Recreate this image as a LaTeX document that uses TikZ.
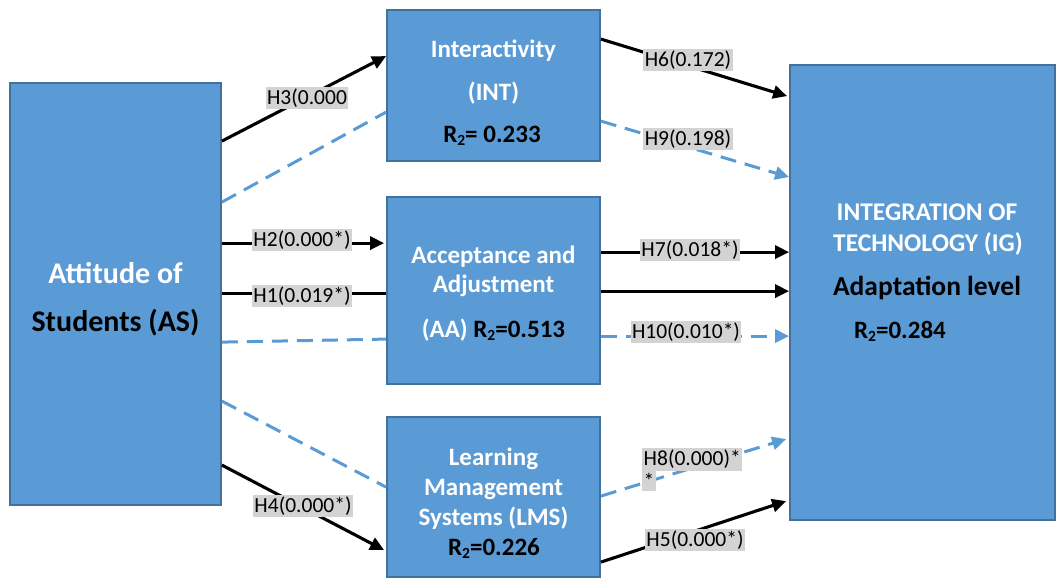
\documentclass[tikz,border=0pt]{standalone}
\usepackage{fontspec}
\setmainfont{Carlito}
\usetikzlibrary{arrows.meta}
\definecolor{boxblue}{HTML}{5B9BD5}
\definecolor{boxedge}{HTML}{41719C}
\definecolor{lblgray}{HTML}{D3D3D3}
\newcommand{\Rtwo}{R\raisebox{-0.15em}{\scalebox{0.62}{2}}}
\begin{document}
\begin{tikzpicture}[x=1pt,y=-1pt,
  box/.style={draw=boxedge,fill=boxblue,line width=1.8pt,inner sep=0pt},
  wt/.style={text=white,font=\fontsize{25}{29}\selectfont\bfseries,anchor=base,inner sep=0pt},
  bt/.style={text=black,font=\fontsize{25}{29}\selectfont\bfseries,anchor=base,inner sep=0pt},
  bigw/.style={text=white,font=\fontsize{30}{34}\selectfont\bfseries,anchor=base,inner sep=0pt},
  bigb/.style={text=black,font=\fontsize{30}{34}\selectfont\bfseries,anchor=base,inner sep=0pt},
  hyp/.style={fill=lblgray,font=\fontsize{21.5}{25}\selectfont,inner xsep=1.5pt,inner ysep=2pt,text=black},
  solidarrow/.style={line width=3.1pt,-{Triangle[length=14pt,width=13pt]}},
  solidline/.style={line width=3.1pt},
  dashline/.style={boxblue,line width=3pt,dash pattern=on 16pt off 9pt},
  dasharrow/.style={dashline,-{Triangle[length=14pt,width=13pt]}}]
\useasboundingbox (0,0) rectangle (1056,578);

% boxes
\node[box,minimum width=211pt,minimum height=422pt] (as) at (115.5,294) {};
\node[box,minimum width=213pt,minimum height=151pt] (int) at (493.5,85.5) {};
\node[box,minimum width=213pt,minimum height=187pt] (aa) at (493.5,290.5) {};
\node[box,minimum width=213pt,minimum height=160pt] (lms) at (493.5,497) {};
\node[box,minimum width=265pt,minimum height=455pt] (ig) at (922.5,292.5) {};

% box texts
\node[bigw] (as1) at (115.5,283) {Attitude of};
\node[bigb] (as2) at (115.5,331) {Students (AS)};

\node[wt] (int1) at (493.5,57) {Interactivity};
\node[wt] (int2) at (493.5,100) {(INT)};
\node[bt] (int3) at (492,142) {\Rtwo= 0.233};

\node[wt] (aa1) at (493.5,263) {Acceptance and};
\node[wt] (aa2) at (493.5,292) {Adjustment};
\node[bt] (aa3) at (493.5,337) {\textcolor{white}{(AA)} \Rtwo=0.513};

\node[wt] (lms1) at (493.5,465) {Learning};
\node[wt] (lms2) at (493.5,495) {Management};
\node[wt] (lms3) at (493.5,525) {Systems (LMS)};
\node[bt] (lms4) at (494,555) {\Rtwo=0.226};

\node[wt,font=\fontsize{25.5}{29}\selectfont\bfseries] (ig1) at (927,220) {INTEGRATION OF};
\node[wt,font=\fontsize{25.5}{29}\selectfont\bfseries] (ig2) at (928,251) {TECHNOLOGY (IG)};
\node[bt,font=\fontsize{27.5}{31}\selectfont\bfseries] (ig3) at (927,295) {Adaptation level};
\node[bt] (ig4) at (900,338) {\Rtwo=0.284};

% connectors from AS
\draw[solidarrow] ([yshift=-59pt]as.north east) -- ([yshift=-47pt]int.north west);
\draw[dashline] ([yshift=-120pt]as.north east) -- ([yshift=-103pt]int.north west);
\draw[solidarrow] ([yshift=-161pt]as.north east) -- ([yshift=-47pt,xshift=-2pt]aa.north west);
\draw[solidline] ([yshift=-211pt]as.north east) -- ([yshift=-97pt]aa.north west);
\draw[dashline] ([yshift=-260pt]as.north east) -- ([yshift=-143pt]aa.north west);
\draw[dashline] ([yshift=-319pt]as.north east) -- ([yshift=-71pt]lms.north west);
\draw[solidarrow] ([yshift=-383pt]as.north east) -- ([yshift=-134pt,xshift=-2pt]lms.north west);

% connectors to IG
\draw[solidarrow] ([yshift=-30pt]int.north east) -- ([yshift=-32pt,xshift=-2pt]ig.north west);
\draw[dasharrow] ([yshift=-112pt]int.north east) -- ([yshift=-113pt]ig.north west);
\draw[solidarrow] ([yshift=-56pt]aa.north east) -- ([yshift=-188pt]ig.north west);
\draw[solidarrow] ([yshift=-95pt]aa.north east) -- ([yshift=-227pt]ig.north west);
\draw[dasharrow] ([yshift=-140pt]aa.north east) -- ([yshift=-272pt]ig.north west);
\draw[dasharrow] ([yshift=-80pt]lms.north east) -- ([yshift=-375pt,xshift=-3pt]ig.north west);
\draw[solidarrow] ([yshift=-146pt]lms.north east) -- ([yshift=-437pt,xshift=-3pt]ig.north west);

% hypothesis labels
\node[hyp] (h3) at (307,98) {H3(0.000};
\node[hyp] (h2) at (302,240) {H2(0.000*)};
\node[hyp] (h1) at (302,296) {H1(0.019*)};
\node[hyp] (h4) at (303,506) {H4(0.000*)};
\node[hyp] (h6) at (688,60) {H6(0.172)};
\node[hyp] (h9) at (688,139) {H9(0.198)};
\node[hyp] (h7) at (690,250) {H7(0.018*)};
\node[hyp] (h10) at (686,332) {H10(0.010*)};
\node[hyp,anchor=north west] (h8a) at (642,448) {H8(0.000)*};
\node[hyp,anchor=north west] (h8b) at (h8a.south west) {*};
\node[hyp] (h5) at (695,540) {H5(0.000*)};
\end{tikzpicture}
\end{document}
